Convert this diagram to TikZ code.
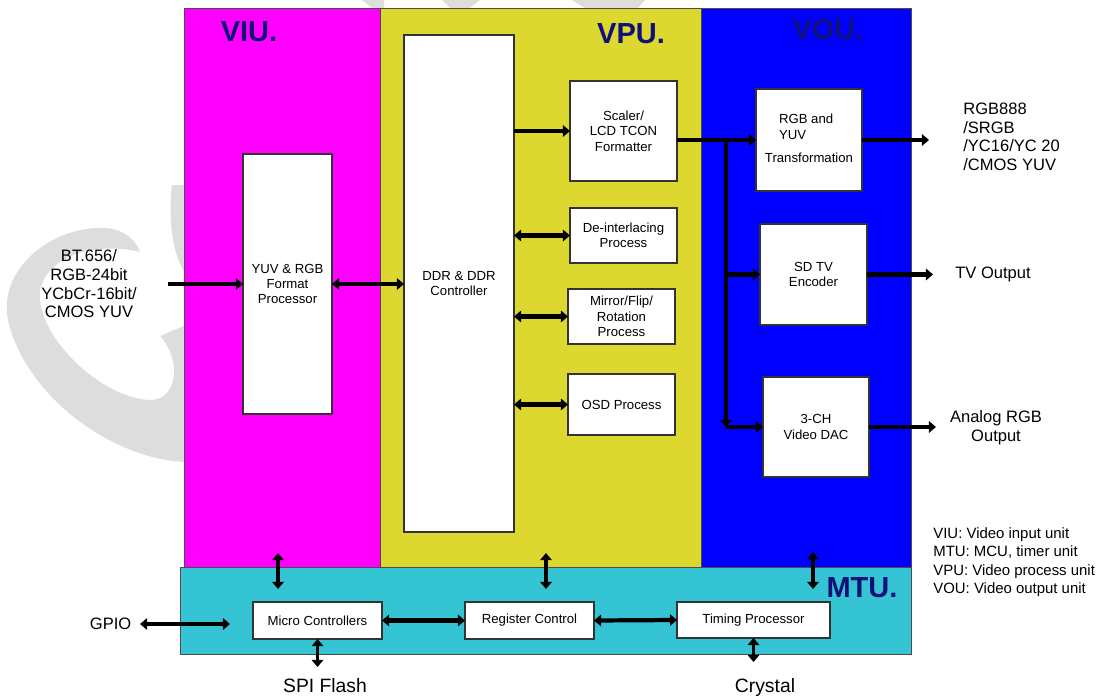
\documentclass[tikz,border=0pt]{standalone}
\usepackage{fontspec}
\setmainfont{Liberation Sans}
\usepackage{tikz}
\usetikzlibrary{arrows.meta}
\definecolor{viucol}{RGB}{255,0,255}
\definecolor{vpucol}{RGB}{221,216,48}
\definecolor{voucol}{RGB}{0,0,255}
\definecolor{mtucol}{RGB}{53,196,212}
\definecolor{unitcol}{RGB}{16,16,120}
\definecolor{markcol}{RGB}{221,221,221}
% block: name, x1, y1, x2, y2, text
\newcommand\unitbox[6]{
  \pgfmathsetmacro{\cx}{(#2+#4)/2}
  \pgfmathsetmacro{\cy}{(#3+#5)/2}
  \pgfmathsetmacro{\bw}{(#4-#2)*0.02}
  \pgfmathsetmacro{\bh}{(#5-#3)*0.02}
  \node[blk, minimum width=\bw cm, minimum height=\bh cm] (#1) at (\cx,\cy) {#6};
}
% coloured unit area: colour, x1, y1, x2, y2
\newcommand\unitarea[5]{
  \filldraw[fill=#1, draw=black!70, line width=0.5pt] (#2,#3) rectangle (#4,#5);
}
\tikzset{
  blk/.style={draw=black!80, fill=white, line width=0.6pt, inner sep=0pt,
    outer sep=0pt, align=center, font=\fontsize{7.5}{8.8}\selectfont},
  lbl/.style={inner sep=0pt, font=\fontsize{9.4}{10.6}\selectfont},
  big/.style={inner sep=0pt, font=\fontsize{11}{13}\selectfont},
  leg/.style={inner sep=0pt, align=left, font=\fontsize{8.5}{10.4}\selectfont},
  ttl/.style={inner sep=0pt, text=unitcol, font=\bfseries\fontsize{16.5}{18}\selectfont},
  tip/.tip={Triangle[length=4pt,width=6.5pt]},
  arr/.style={line width=2.4pt, -tip},
  darr/.style={line width=2.4pt, tip-tip},
  varr/.style={line width=1.9pt, tip-tip},
}
\begin{document}
\begin{tikzpicture}[x=0.02cm, y=-0.02cm]
\useasboundingbox (0,0) rectangle (1099,696);

% grey mark in the background
\fill[markcol] (184,462) .. controls (110,458) and (25,395) .. (8,320)
  .. controls (-2,270) and (50,226) .. (105,228)
  .. controls (122,229) and (135,238) .. (140,252)
  .. controls (105,243) and (50,250) .. (40,290)
  .. controls (35,335) and (100,398) .. (150,400)
  .. controls (178,400) and (182,360) .. (160,336) -- (184,326) -- cycle;
\fill[markcol] (172,185) .. controls (168,220) and (172,250) .. (184,272) -- (184,185) -- cycle;
\fill[markcol] (362,0) -- (384,0) -- (384,8) -- (372,8) -- cycle;
\fill[markcol] (442,0) -- (480,0) -- (470,8) -- (450,8) -- cycle;
\fill[markcol] (572,0) -- (645,0) -- (638,8) -- (585,8) -- cycle;

\unitarea{viucol}{184}{8}{380}{567}
\unitarea{vpucol}{380}{8}{701}{567}
\unitarea{voucol}{701}{8}{911}{567}
\unitarea{mtucol}{180}{567}{911}{654}

\node[ttl] (viuT) at (249,32) {VIU.};
\node[ttl] (vpuT) at (631,34) {VPU.};
\node[ttl] (vouT) at (828,30) {VOU.};
\node[ttl] (mtuT) at (862,588) {MTU.};

\unitbox{yuv}{243}{154}{332}{414}{YUV \& RGB\\Format\\Processor}
\unitbox{ddr}{404}{35}{514}{532}{DDR \& DDR\\Controller}
\unitbox{scaler}{570}{81}{677}{181}{Scaler/\\LCD TCON\\Formatter}
\unitbox{deint}{570}{208}{677}{263}{De-interlacing\\Process}
\unitbox{mirror}{568}{289}{675}{344}{Mirror/Flip/\\Rotation\\Process}
\unitbox{osd}{568}{374}{675}{435}{OSD Process}
\unitbox{rgb}{756}{89}{862}{191}{\begin{tabular}{@{}l@{}}\hspace*{8pt}RGB and\\\hspace*{8pt}YUV\\[4.5pt]Transformation\end{tabular}}
\unitbox{sdtv}{760}{224}{867}{325}{SD TV\\Encoder}
\unitbox{dac}{763}{377}{869}{477}{3-CH\\Video DAC}
\unitbox{micro}{253}{602}{382}{639}{Micro Controllers}
\unitbox{reg}{465}{602}{594}{639}{Register Control}
\unitbox{timing}{677}{602}{830}{638}{Timing Processor}

\node[lbl, align=center] (vin) at (89,284) {BT.656/\\RGB-24bit\\YCbCr-16bit/\\CMOS YUV};
\node[lbl, align=left, anchor=west] (vout) at (963,137) {RGB888\\/SRGB\\/YC16/YC 20\\/CMOS YUV};
\node[lbl, anchor=west] (tvout) at (955,274) {TV Output};
\node[lbl, align=center] (aout) at (996,428) {Analog RGB\\Output};
\node[lbl, anchor=east, outer sep=5pt] (gpio) at (140,624) {GPIO};
\node[big] (spi) at (325,686) {SPI Flash};
\node[big] (xtal) at (765,687) {Crystal};
\node[leg, anchor=west] (legend) at (933,562) {VIU: Video input unit\\MTU: MCU, timer unit\\VPU: Video process unit\\VOU: Video output unit};

\coordinate (vinEnd) at (168,284);
\coordinate (tap) at (726,140);
\coordinate (rgbEnd) at (929,140);
\coordinate (tvEnd) at (933,274.5);
\coordinate (dacEnd) at (936,427);
\coordinate (gpioEnd) at (230,624);
\coordinate (spiEnd) at (317.5,667);
\coordinate (xtalEnd) at (753.5,662);

\draw[arr] (vinEnd) -- (yuv.west);
\draw[darr] (yuv.east) -- (ddr.west |- yuv.east);
\draw[arr] (ddr.east |- scaler.west) -- (scaler.west);
\draw[darr] (ddr.east |- deint.west) -- (deint.west);
\draw[darr] (ddr.east |- mirror.west) -- (mirror.west);
\draw[darr] (ddr.east |- osd.west) -- (osd.west);

\draw[arr] (scaler.east |- rgb.west) -- (rgb.west);
\draw[arr] (tap) -- (tap |- dac.west);
\draw[arr] (tap |- sdtv.west) -- (sdtv.west);
\draw[arr] (tap |- dac.west) -- (dac.west);
\draw[arr] (rgb.east) -- (rgbEnd);
\draw[arr] (sdtv.east) -- (tvEnd);
\draw[arr] (dac.east) -- (dacEnd);

\draw[varr] (278,553) -- (278,589);
\draw[varr] (546,553) -- (546,589);
\draw[varr] (813,552) -- (813,589);
\draw[darr] (gpio.east) -- (gpioEnd);
\draw[darr] (micro.east) -- (reg.west);
\draw[darr] (reg.east) -- (timing.west);
\draw[varr] (micro.south) -- (spiEnd);
\draw[varr] (timing.south) -- (xtalEnd);
\end{tikzpicture}
\end{document}
